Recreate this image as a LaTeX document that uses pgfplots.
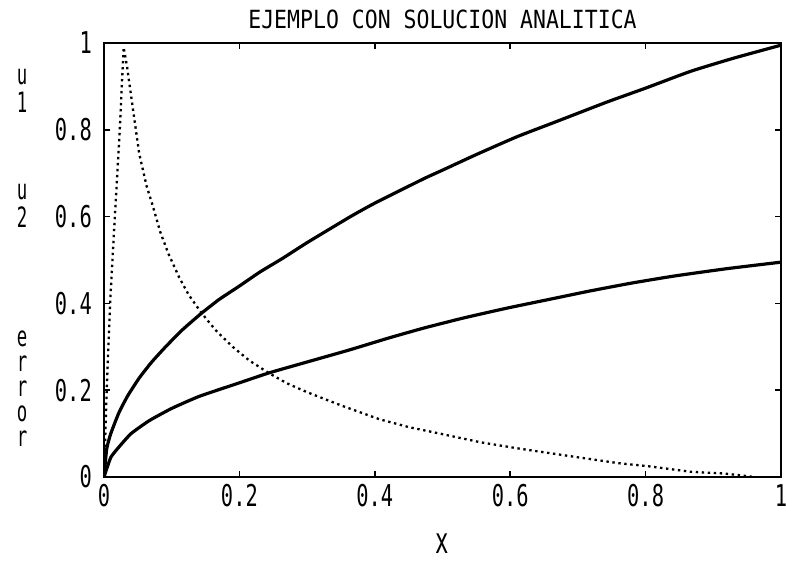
\documentclass[border=0pt]{standalone}
\usepackage{fontspec}
\usepackage{pgfplots}
\pgfplotsset{compat=1.18}
\newfontfamily\titlefont[FakeStretch=0.86]{DejaVu Sans Mono}
\newfontfamily\tickfont[FakeStretch=0.68]{DejaVu Sans Mono}
\newfontfamily\labfont[FakeStretch=0.62]{DejaVu Sans Mono}

\pgfplotstableread{
x y
0 0
0.004 0.065
0.01 0.1
0.022 0.148
0.035 0.187
0.052 0.228
0.07 0.264
0.091 0.3
0.115 0.338
0.143 0.376
0.17 0.409
0.2 0.44
0.23 0.472
0.264 0.504
0.3 0.54
0.363 0.599
0.4 0.631
0.472 0.687
0.5 0.707
0.55 0.743
0.61 0.784
0.67 0.82
0.743 0.864
0.8 0.896
0.867 0.935
0.93 0.965
1.0 0.995
}\uone

\pgfplotstableread{
x y
0 0
0.01 0.045
0.022 0.069
0.04 0.1
0.067 0.13
0.1 0.158
0.141 0.186
0.2 0.217
0.244 0.24
0.3 0.265
0.363 0.293
0.42 0.32
0.472 0.343
0.53 0.366
0.595 0.389
0.66 0.41
0.719 0.429
0.78 0.447
0.842 0.463
0.92 0.48
1.0 0.495
}\utwo

\pgfplotstableread{
x y
0 0
0.004 0.2
0.009 0.4
0.016 0.6
0.023 0.79
0.029 0.99
0.034 0.946
0.043 0.845
0.052 0.745
0.063 0.67
0.072 0.625
0.083 0.565
0.095 0.515
0.111 0.46
0.125 0.42
0.143 0.38
0.165 0.338
0.19 0.30
0.215 0.268
0.244 0.239
0.27 0.216
0.299 0.196
0.35 0.165
0.407 0.133
0.45 0.115
0.496 0.10
0.556 0.08
0.615 0.065
0.693 0.047
0.759 0.032
0.803 0.025
0.867 0.012
0.916 0.008
0.945 0.003
0.96 0
}\err

\begin{document}
\begin{tikzpicture}[x=1bp,y=1bp]
\useasboundingbox (-104,-84) rectangle (682,477);
\begin{axis}[
  at={(0,0)}, anchor=south west,
  scale only axis, width=677bp, height=434bp,
  xmin=0, xmax=1, ymin=0, ymax=1,
  axis line style={line width=2.8bp},
  xtick={0,0.2,0.4,0.6,0.8,1},
  ytick={0,0.2,0.4,0.6,0.8,1},
  xticklabels={0,0.2,0.4,0.6,0.8,1},
  yticklabels={0,0.2,0.4,0.6,0.8,1},
  tick style={line width=1.5bp, black},
  major tick length=6bp,
  xticklabel style={font=\fontsize{30bp}{30bp}\tickfont, inner sep=0pt, yshift=-7bp},
  yticklabel style={font=\fontsize{30bp}{30bp}\tickfont, inner sep=0pt, xshift=-12bp},
  title={EJEMPLO CON SOLUCION ANALITICA},
  title style={font=\fontsize{25bp}{26bp}\titlefont, at={(0.5,1)}, anchor=base, yshift=9bp, inner sep=0pt},
  xlabel={x},
  xlabel style={font=\fontsize{36bp}{36bp}\labfont, at={(0.5,0)}, anchor=center, yshift=-67bp, inner sep=0pt},
]
\addplot[black, line width=3.2bp, line join=round, smooth, tension=0.3] table[x=x,y=y] {\uone};
\addplot[black, line width=3.2bp, line join=round, smooth, tension=0.3] table[x=x,y=y] {\utwo};
\addplot[black, line width=2.3bp, dash pattern=on 2.4bp off 3.6bp] table[x=x,y=y] {\err};
\end{axis}
\begin{scope}[every node/.style={font=\fontsize{28bp}{29bp}\labfont, inner sep=0pt, align=center}]
\node[anchor=north] at (-82,408) {u\\[-0.5bp]1};
\node[anchor=north] at (-82,293) {u\\[-0.5bp]2};
\node[anchor=north] at (-82,146) {e\\[-4bp]r\\[-4bp]r\\[-4bp]o\\[-4bp]r};
\end{scope}
\end{tikzpicture}
\end{document}
